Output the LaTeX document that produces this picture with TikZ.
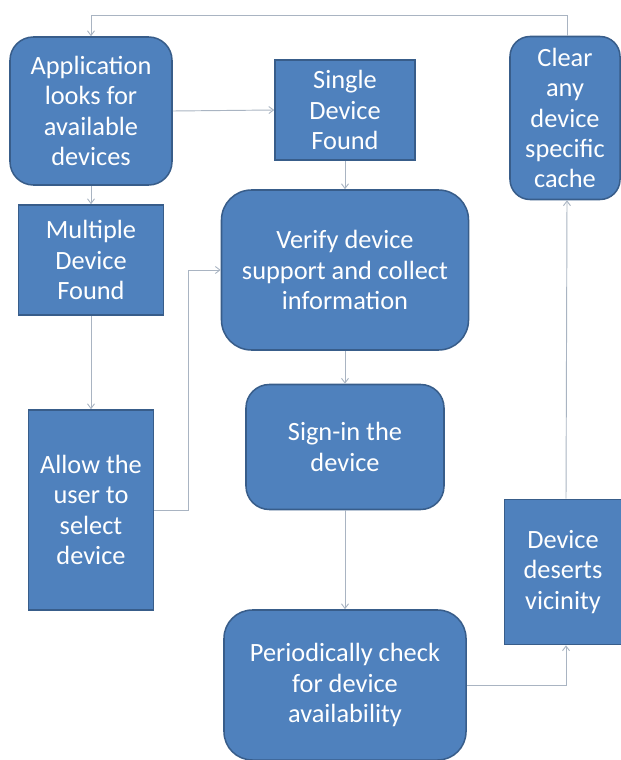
\documentclass[tikz,border=0pt]{standalone}
\usepackage{fontspec}
\setmainfont{Carlito}
\usetikzlibrary{positioning,calc,arrows.meta}

\definecolor{boxfill}{HTML}{4F81BD}
\definecolor{boxline}{HTML}{385D8A}
\definecolor{linkgray}{HTML}{A9B4C2}

\begin{document}
\begin{tikzpicture}[x=0.03cm,y=-0.03cm,
		box/.style={draw=boxline, line width=1.3pt, fill=boxfill, text=white, align=center, inner sep=0pt,
			font=\fontsize{22.5}{25.8}\selectfont},
		roundbox/.style={box, rounded corners=0.7cm},
		flatbox/.style={box},
		link/.style={draw=linkgray, line width=0.8pt, -{Straight Barb[length=4pt,width=6pt]}}]
		\useasboundingbox (0,0) rectangle (621,760);
		
		\node[roundbox, minimum width=4.86cm, minimum height=4.44cm] (app) at (91,111) {Application\\looks for\\available\\devices};
		\node[flatbox, minimum width=4.2cm, minimum height=3cm] (single) at (345,110) {Single\\Device\\Found};
		\node[roundbox, rounded corners=0.6cm, minimum width=3.3cm, minimum height=4.89cm] (clear) at (565,118) {Clear\\any\\device\\specific\\cache};
		
		\node[flatbox, minimum width=4.35cm, minimum height=3.3cm] (multi) at (91,260) {Multiple\\Device\\Found};
		\node[roundbox, rounded corners=0.9cm, minimum width=7.41cm, minimum height=4.8cm] (verify) at (345,270) {Verify device\\support and collect\\information};
		
		\node[flatbox, minimum width=3.75cm, minimum height=6cm] (allow) at (91,510) {Allow the\\user to\\select\\device};
		\node[roundbox, minimum width=5.94cm, minimum height=3.75cm] (signin) at (345,447) {Sign-in the\\device};
		\node[flatbox, minimum width=3.5cm, minimum height=4.35cm] (deserts) at (563,572) {Device\\deserts\\vicinity};
		\node[roundbox, rounded corners=0.85cm, minimum width=7.26cm, minimum height=4.5cm] (periodic) at (345,685) {Periodically check\\for device\\availability};
		
		% connectors
		\draw[link] (app.east) -- (single.west);
		\draw[link] (single.south) -- (verify.north);
		\draw[link] (app.south) -- (multi.north);
		\draw[link] (multi.south) -- (allow.north);
		\draw[link] (allow.east) -- ++(34,0) |- (verify.west);
		\draw[link] (verify.south) -- (signin.north);
		\draw[link] (signin.south) -- (periodic.north);
		\draw[link] (periodic.east) -| ([xshift=0.09cm]deserts.south);
		\draw[link] ([xshift=0.09cm]deserts.north) -- ([xshift=0.06cm]clear.south);
		\draw[link] ([xshift=0.06cm]clear.north) -- ++(0,-20) -| (app.north);
	\end{tikzpicture}
\end{document}
